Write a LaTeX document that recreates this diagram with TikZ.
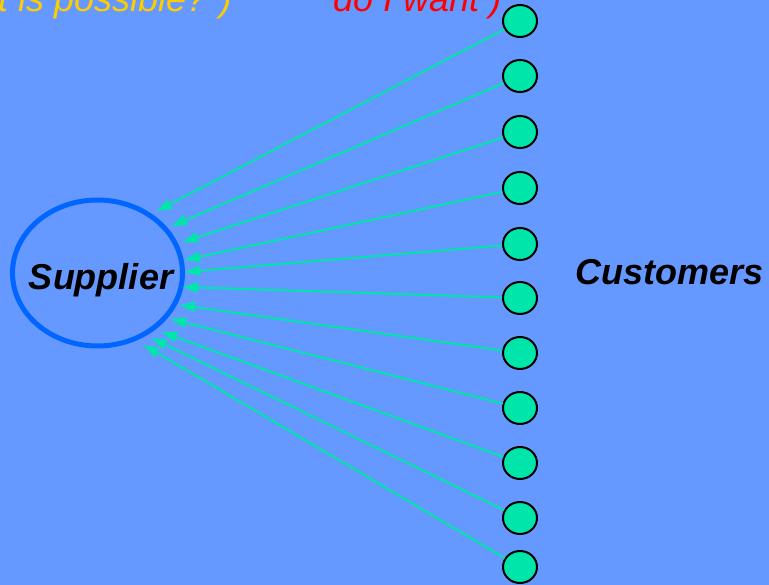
\documentclass[tikz,border=0pt]{standalone}
\usepackage{fontspec}
\setmainfont{Liberation Sans}
\usetikzlibrary{shapes.geometric,calc}
\definecolor{bg}{HTML}{6699FF}
\definecolor{cust}{HTML}{00E5AA}
\definecolor{ring}{HTML}{0066FF}
\definecolor{gold}{HTML}{FFCC00}
\tikzset{
  custnode/.style={ellipse,draw=black,line width=2pt,fill=cust,minimum width=34pt,minimum height=32pt,inner sep=0pt},
  supnode/.style={ellipse,draw=ring,line width=5pt,minimum width=170pt,minimum height=146pt,inner sep=0pt},
  conn/.style={draw=cust,line width=2pt},
  tiphead/.style={fill=cust},
  big/.style={font=\fontsize{36}{40}\selectfont\bfseries\itshape,inner sep=0pt},
  toptext/.style={font=\fontsize{36}{40}\selectfont\itshape,inner sep=0pt}
}
\begin{document}
\begin{tikzpicture}[x=1pt,y=-1pt]
\fill[bg] (0,0) rectangle (769,585);
\useasboundingbox (0,0) rectangle (769,585);
\node[toptext,text=gold,anchor=base west] (q1) at (-2,12) {t is possible? )};
\node[toptext,text=red,anchor=base west] (q2) at (333,12) {do I want )};
\node[supnode] (sup) at (97.5,273) {};
\node[big,anchor=base] (suplbl) at (101,290) {Supplier};
\node[big,anchor=base west] (custlbl) at (575,285) {Customers};
\foreach \i/\y in {1/21,2/76,3/132,4/188,5/244,6/298,7/353,8/408,9/463,10/518,11/567}{
  \node[custnode] (c\i) at (520,\y) {};
}
\coordinate (t1) at (157,211);
\coordinate (t2) at (172,226);
\coordinate (t3) at (183,242);
\coordinate (t4) at (185,260);
\coordinate (t5) at (185,272);
\coordinate (t6) at (183,287);
\coordinate (t7) at (180,305);
\coordinate (t8) at (171,319);
\coordinate (t9) at (162,332);
\coordinate (t10) at (152,338);
\coordinate (t11) at (144,345);
\foreach \i in {1,...,11}{
  \coordinate (b\i) at ($(t\i)!15pt!(c\i.center)$);
  \draw[conn] (c\i) -- (b\i);
  \fill[tiphead] (t\i) -- ($(b\i)!5.5pt!90:(t\i)$) -- ($(b\i)!5.5pt!-90:(t\i)$) -- cycle;
}
\end{tikzpicture}
\end{document}
